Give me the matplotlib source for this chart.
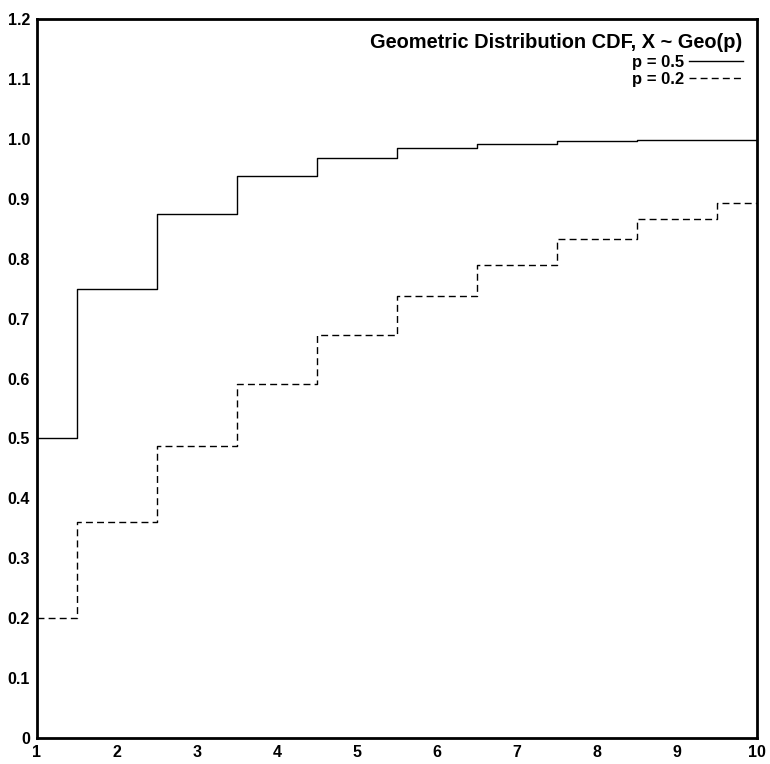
import matplotlib.pyplot as plt
import numpy as np

# dados
k = [1, 2, 3, 4, 5, 6, 7, 8, 9, 10]
cdf_p05 = [0.5, 0.75, 0.875, 0.9375, 0.96875, 0.984375, 0.9921875,
           0.99609375, 0.998046875, 0.9990234375]
cdf_p02 = [0.2, 0.36, 0.488, 0.5904, 0.67232, 0.737856, 0.7902848,
           0.83222784, 0.865782272, 0.8926258176]
yticks = [0, 0.1, 0.2, 0.3, 0.4, 0.5, 0.6, 0.7, 0.8, 0.9, 1.0, 1.1, 1.2]
yticklabels = ['0', '0.1', '0.2', '0.3', '0.4', '0.5', '0.6', '0.7', '0.8',
               '0.9', '1.0', '1.1', '1.2']

plt.rcParams['font.family'] = ['Liberation Sans', 'DejaVu Sans']
plt.rcParams['font.weight'] = 'bold'
plt.rcParams['font.size'] = 11.5

fig = plt.figure(figsize=(7.7, 7.64), dpi=100)
ax = fig.add_axes([0.048, 0.034, 0.935, 0.941])

ax.step(k, cdf_p05, where='mid', color='black', lw=1.0, label='p = 0.5')
ax.step(k, cdf_p02, where='mid', color='black', lw=1.0,
        linestyle=(0, (5, 3)), label='p = 0.2')

ax.set_xlim(1, 10)
ax.set_ylim(0, 1.2)
ax.set_xticks(k)
ax.set_yticks(yticks)
ax.set_yticklabels(yticklabels)
ax.tick_params(length=0, pad=5)
for s in ax.spines.values():
    s.set_linewidth(2)

leg = ax.legend(loc='upper right', frameon=False, markerfirst=False,
                title='Geometric Distribution CDF, X ~ Geo(p)',
                title_fontsize=14.4,
                alignment='right', handlelength=3.2, handletextpad=0.3,
                labelspacing=0.15, borderaxespad=0.45,
                prop={'weight': 'bold', 'size': 12})
leg.get_title().set_fontweight('bold')

plt.savefig('out.png', dpi=100)
